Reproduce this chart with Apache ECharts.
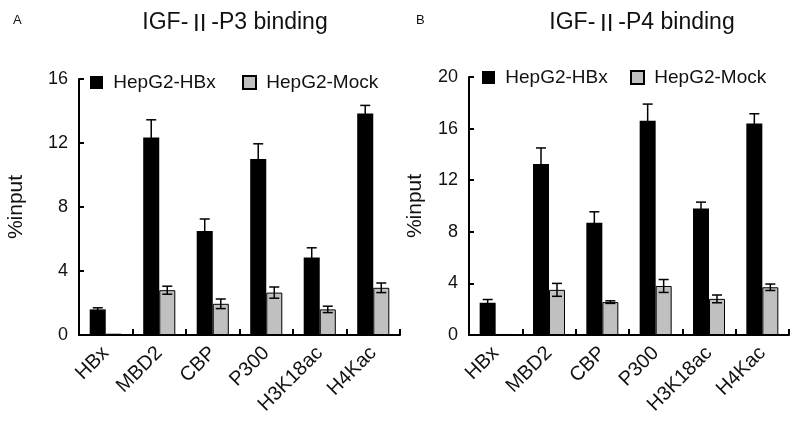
<!DOCTYPE html>
<html>
<head>
<meta charset="utf-8">
<script src="https://cdn.jsdelivr.net/npm/echarts@6/dist/echarts.min.js"></script>
<style>
  html, body { margin: 0; padding: 0; background: #fff; }
  #chart { width: 800px; height: 427px; }
</style>
</head>
<body>
<div id="chart"></div>
<script>
// categories on both panels
var categories = ['HBx', 'MBD2', 'CBP', 'P300', 'H3K18ac', 'H4Kac'];

// panel A : IGF-II-P3 binding
var p3Hbx     = [1.6, 12.35, 6.5, 11.0, 4.85, 13.85];
var p3HbxErr  = [0.1, 1.1, 0.75, 0.95, 0.6, 0.5];
var p3Mock    = [0.08, 2.8, 1.95, 2.65, 1.6, 2.95];
var p3MockErr = [0, 0.25, 0.3, 0.35, 0.2, 0.3];

// panel B : IGF-II-P4 binding
var p4Hbx     = [2.5, 13.25, 8.7, 16.6, 9.8, 16.4];
var p4HbxErr  = [0.25, 1.25, 0.85, 1.3, 0.5, 0.75];
var p4Mock    = [0.08, 3.5, 2.55, 3.8, 2.8, 3.7];
var p4MockErr = [0, 0.5, 0.1, 0.5, 0.3, 0.25];

var yTicksA = { max: 16, interval: 4 };
var yTicksB = { max: 20, interval: 4 };

var font = "'Liberation Sans', Arial, sans-serif";
var cjk = "'Noto Sans CJK SC', sans-serif";
var ink = '#111';

function errData(vals, errs) {
  return vals.map(function (v, i) { return [i, v, errs[i]]; });
}

// symmetric error bar with caps, shifted to the bar's centre
function errorRender(shift) {
  return function (params, api) {
    var e = api.value(2);
    if (!e) return;
    var i = api.value(0), v = api.value(1);
    var band = api.size([1, 0])[0];
    var hi = api.coord([i, v + e]);
    var lo = api.coord([i, v - e]);
    var x = hi[0] + band * shift;
    var cap = 5;
    var st = { stroke: '#000', lineWidth: 1.5 };
    return {
      type: 'group',
      children: [
        { type: 'line', shape: { x1: x, y1: hi[1], x2: x, y2: lo[1] }, style: st },
        { type: 'line', shape: { x1: x - cap, y1: hi[1], x2: x + cap, y2: hi[1] }, style: st },
        { type: 'line', shape: { x1: x - cap, y1: lo[1], x2: x + cap, y2: lo[1] }, style: st }
      ]
    };
  };
}

function xAxisOf(grid) {
  return {
    type: 'category',
    gridIndex: grid,
    data: categories,
    boundaryGap: true,
    axisLine: { show: true, lineStyle: { color: '#000', width: 2 } },
    axisTick: { show: true, inside: true, alignWithLabel: false, interval: 0, length: 6,
      lineStyle: { color: '#000', width: 2 } },
    axisLabel: { rotate: 45, interval: 0, margin: 15, fontSize: 20, color: ink, fontFamily: font }
  };
}

function yAxisOf(grid, ticks, gap) {
  return {
    type: 'value',
    gridIndex: grid,
    min: 0,
    max: ticks.max,
    interval: ticks.interval,
    name: '%input',
    nameLocation: 'middle',
    nameGap: gap,
    nameTextStyle: { fontSize: 21, color: ink, fontFamily: font },
    axisLine: { show: true, lineStyle: { color: '#000', width: 2 } },
    axisTick: { show: true, inside: true, length: 5, lineStyle: { color: '#000', width: 2 } },
    axisLabel: { fontSize: 18, margin: 11, color: ink, fontFamily: font },
    splitLine: { show: false }
  };
}

function titleOf(label, x) {
  return {
    text: 'IGF-{r|Ⅱ}-' + label + ' binding', left: x, top: 6, textAlign: 'center',
    textStyle: { fontSize: 23, fontWeight: 'normal', color: ink, fontFamily: font,
      rich: { r: { fontSize: 23, fontFamily: cjk, color: ink } } }
  };
}

function legendOf(name, x, y) {
  return {
    data: [name], left: x, top: y, icon: 'rect', itemWidth: 13, itemHeight: 13,
    formatter: ' {name}', textStyle: { fontSize: 19, color: ink, fontFamily: font }
  };
}

var hbxStyle = { color: '#000' };
var mockStyle = { color: '#c0c0c0', borderColor: '#000', borderWidth: 1 };

var chart = echarts.init(document.getElementById('chart'));
var option = {
  animation: false,
  backgroundColor: '#fff',
  textStyle: { fontFamily: font },
  title: [
    { text: 'A', left: 8, top: 9, textStyle: { fontSize: 13, fontWeight: 'normal', color: ink, fontFamily: font } },
    { text: 'B', left: 411, top: 9, textStyle: { fontSize: 13, fontWeight: 'normal', color: ink, fontFamily: font } },
    titleOf('P3', 230),
    titleOf('P4', 637)
  ],
  legend: [
    legendOf('HepG2-HBx', 85, 68),
    legendOf('HepG2-Mock', 237, 68),
    legendOf('HepG2-HBx', 477, 63),
    legendOf('HepG2-Mock', 625, 63)
  ],
  grid: [
    { left: 79, right: 400, top: 79, bottom: 92 },
    { left: 469, right: 11, top: 77, bottom: 92 }
  ],
  xAxis: [xAxisOf(0), xAxisOf(1)],
  yAxis: [yAxisOf(0, yTicksA, 52), yAxisOf(1, yTicksB, 43)],
  series: [
    { name: 'HepG2-HBx', type: 'bar', xAxisIndex: 0, yAxisIndex: 0, barWidth: '30%', barGap: '0%',
      itemStyle: hbxStyle, data: p3Hbx },
    { name: 'HepG2-Mock', type: 'bar', xAxisIndex: 0, yAxisIndex: 0, barWidth: '30%', barGap: '0%',
      itemStyle: mockStyle, data: p3Mock },
    { name: 'HepG2-HBx', type: 'bar', xAxisIndex: 1, yAxisIndex: 1, barWidth: '30%', barGap: '0%',
      itemStyle: hbxStyle, data: p4Hbx },
    { name: 'HepG2-Mock', type: 'bar', xAxisIndex: 1, yAxisIndex: 1, barWidth: '30%', barGap: '0%',
      itemStyle: mockStyle, data: p4Mock },
    { type: 'custom', xAxisIndex: 0, yAxisIndex: 0, z: 5, renderItem: errorRender(-0.15),
      encode: { x: 0, y: 1 }, data: errData(p3Hbx, p3HbxErr) },
    { type: 'custom', xAxisIndex: 0, yAxisIndex: 0, z: 5, renderItem: errorRender(0.15),
      encode: { x: 0, y: 1 }, data: errData(p3Mock, p3MockErr) },
    { type: 'custom', xAxisIndex: 1, yAxisIndex: 1, z: 5, renderItem: errorRender(-0.15),
      encode: { x: 0, y: 1 }, data: errData(p4Hbx, p4HbxErr) },
    { type: 'custom', xAxisIndex: 1, yAxisIndex: 1, z: 5, renderItem: errorRender(0.15),
      encode: { x: 0, y: 1 }, data: errData(p4Mock, p4MockErr) }
  ]
};
chart.setOption(option);
</script>
</body>
</html>
